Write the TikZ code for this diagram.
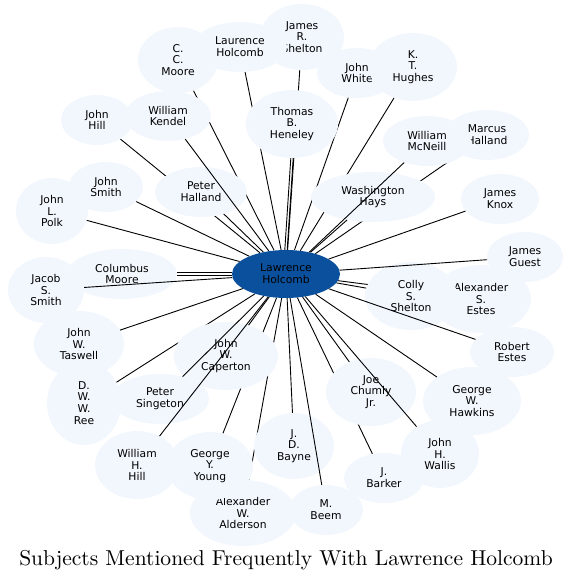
\documentclass[tikz,border=0pt]{standalone}
\usepackage{fontspec}
\setsansfont{DejaVu Sans}
\newfontfamily\titlefont{lmroman10-regular.otf}
\usepackage{tikz}
\usetikzlibrary{shapes.geometric}
\definecolor{nodefill}{HTML}{F2F7FE}
\definecolor{hubblue}{HTML}{0B509C}
\pgfdeclarelayer{back}
\pgfsetlayers{back,main}

\begin{document}
\begin{tikzpicture}[
  x=1bp, y=-1bp,
  font=\sffamily\fontsize{10.8}{11.8}\selectfont,
  person/.style={ellipse, fill=nodefill, inner sep=0pt, align=center},
  sz/.style 2 args={minimum width=#1bp, minimum height=#2bp},
  hub/.style={ellipse, fill=hubblue, inner sep=0pt, align=center, minimum width=108bp, minimum height=48bp},
  ln/.style={line width=0.9bp},
]
\useasboundingbox (0,0) rectangle (573,583);
% outer ring, drawn in this order (later ones cover earlier text)
\node[person, sz={80}{66}] (cm) at (178,60) {C.\\C.\\Moore};
\node[person, sz={84}{66}] (jrs) at (302,37) {James\\R.\\Shelton};
\node[person, sz={94}{50}] (lh) at (240,47) {Laurence\\Holcomb};
\node[person, sz={80}{50}] (jw) at (357,73) {John\\White};
\node[person, sz={88}{68}] (kth) at (413,67) {K.\\T.\\Hughes};
\node[person, sz={72}{50}] (jh) at (97,120) {John\\Hill};
\node[person, sz={86}{50}] (wk) at (168,116) {William\\Kendel};
\node[person, sz={92}{68}] (tbh) at (292,124) {Thomas\\B.\\Heneley};
\node[person, sz={84}{50}] (mh) at (487,135) {Marcus\\Halland};
\node[person, sz={88}{50}] (wm) at (427,141) {William\\McNeill};
\node[person, sz={74}{50}] (js) at (106,187) {John\\Smith};
\node[person, sz={92}{50}] (ph) at (201,192) {Peter\\Halland};
\node[person, sz={72}{66}] (jlp) at (52,211) {John\\L.\\Polk};
\node[person, sz={124}{50}] (wh) at (373,197) {Washington\\Hays};
\node[person, sz={78}{50}] (jk) at (500,199) {James\\Knox};
\node[person, sz={76}{50}] (jg) at (525,257) {James\\Guest};
\node[person, sz={110}{50}] (cmo) at (122,274) {Columbus\\Moore};
\node[person, sz={76}{66}] (jss) at (46,290) {Jacob\\S.\\Smith};
\node[person, sz={90}{66}] (jwt) at (79,344) {John\\W.\\Taswell};
\node[person, sz={74}{84}] (dwr) at (84,403) {D.\\W.\\W.\\Ree};
\node[person, sz={98}{50}] (ps) at (160,399) {Peter\\Singeton};
\node[person, sz={104}{68}] (jwc) at (226,356) {John\\W.\\Caperton};
\node[person, sz={84}{68}] (whh) at (137,465) {William\\H.\\Hill};
\node[person, sz={106}{66}] (awa) at (243,513) {Alexander\\W.\\Alderson};
\node[person, sz={86}{68}] (gyy) at (210,466) {George\\Y.\\Young};
\node[person, sz={80}{66}] (jdb) at (294,446) {J.\\D.\\Bayne};
\node[person, sz={74}{50}] (mb) at (326,510) {M.\\Beem};
\node[person, sz={90}{68}] (jcj) at (371,392) {Joe\\Chumly\\Jr.};
\node[person, sz={80}{50}] (jb) at (384,478) {J.\\Barker};
\node[person, sz={78}{68}] (jhw) at (440,454) {John\\H.\\Wallis};
\node[person, sz={98}{68}] (gwh) at (472,401) {George\\W.\\Hawkins};
\node[person, sz={84}{50}] (re) at (512,352) {Robert\\Estes};
\node[person, sz={100}{68}] (ase) at (481,299) {Alexander\\S.\\Estes};
\node[person, sz={92}{68}] (css) at (411,296) {Colly\\S.\\Shelton};
% centre
\node[hub] (hub) at (286,274) {Lawrence\\Holcomb};
% links that pass behind other people
\begin{pgfonlayer}{back}
\foreach \p in {cm,lh,jrs,jw,kth,mh,jh,dwr,gyy,awa,jb,ase}
  \draw[ln] (\p) -- (hub);
\end{pgfonlayer}
% links drawn over the ring
\foreach \p in {wk,wm,ph,js,jlp,jss,jwt,jwc,ps,whh,jdb,mb,jcj,jhw,gwh,re,css,jg,jk,wh}
  \draw[ln] (\p) -- (hub);
\draw[ln] ([xshift=-1.2bp]tbh.south) -- ([xshift=-1.2bp]hub.north);
\draw[ln] ([xshift=1.2bp]tbh.south) -- ([xshift=1.2bp]hub.north);
\draw[ln] ([yshift=1.2bp]cmo.east) -- ([yshift=1.2bp]hub.west);
\draw[ln] ([yshift=-1.2bp]cmo.east) -- ([yshift=-1.2bp]hub.west);
\node[font=\titlefont\fontsize{21.6}{26}\selectfont] (title) at (286,560) {Subjects Mentioned Frequently With Lawrence Holcomb};
\end{tikzpicture}
\end{document}
